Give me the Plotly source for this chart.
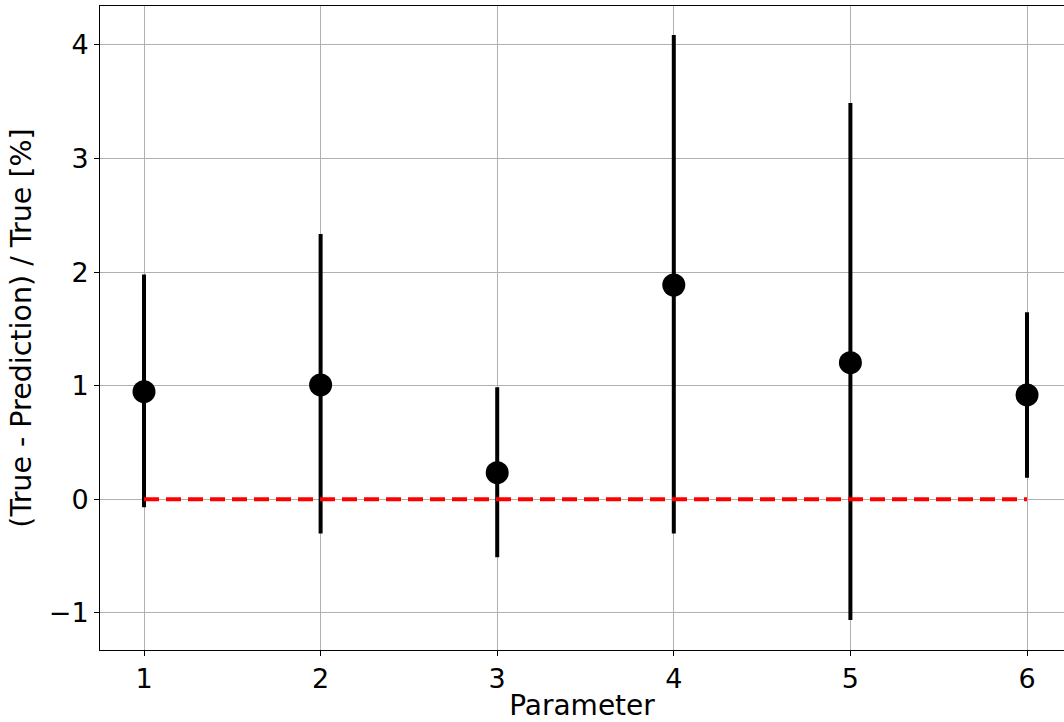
import plotly.graph_objects as go

params = [1, 2, 3, 4, 5, 6]
values = [0.948, 1.007, 0.235, 1.887, 1.203, 0.919]
upper = [1.98, 2.336, 0.987, 4.088, 3.49, 1.647]
lower = [-0.07, -0.30, -0.51, -0.30, -1.062, 0.19]
zero_x = [1, 6]
zero_y = [0, 0]
yticks = [-1, 0, 1, 2, 3, 4]
yticktext = ["\u22121", "0", "1", "2", "3", "4"]

err_plus = [u - v for u, v in zip(upper, values)]
err_minus = [v - l for v, l in zip(values, lower)]

fig = go.Figure()
fig.add_trace(go.Scatter(
    x=params, y=values, mode="markers",
    marker=dict(color="black", size=23),
    error_y=dict(type="data", symmetric=False, array=err_plus, arrayminus=err_minus,
                 color="black", thickness=4, width=0),
    showlegend=False,
))
fig.add_trace(go.Scatter(
    x=zero_x, y=zero_y, mode="lines",
    line=dict(color="red", width=4, dash="15px,7px"),
    showlegend=False,
))

font = dict(family="DejaVu Sans", size=28, color="black")
fig.update_layout(
    width=1064, height=722,
    margin=dict(l=100, r=0, t=6, b=72),
    plot_bgcolor="white", paper_bgcolor="white",
    font=font,
    xaxis=dict(
        range=[0.7508, 6.2095], tickvals=params, ticktext=[str(p) for p in params],
        showgrid=True, gridcolor="#b0b0b0", gridwidth=1,
        showline=True, linecolor="black", linewidth=1, mirror=True,
        ticks="outside", ticklen=5, tickcolor="black", tickfont=dict(size=27),
        zeroline=False,
        title=dict(text="Parameter", font=dict(size=28), standoff=6),
    ),
    yaxis=dict(
        range=[-1.326, 4.343], tickvals=yticks, ticktext=yticktext,
        showgrid=True, gridcolor="#b0b0b0", gridwidth=1,
        showline=True, linecolor="black", linewidth=1, mirror=False,
        ticks="outside", ticklen=5, tickcolor="black", tickfont=dict(size=27),
        zeroline=False,
        title=dict(text="(True - Prediction) / True [%]", font=dict(size=28.5), standoff=8),
    ),
)
fig.write_html("out.html")
